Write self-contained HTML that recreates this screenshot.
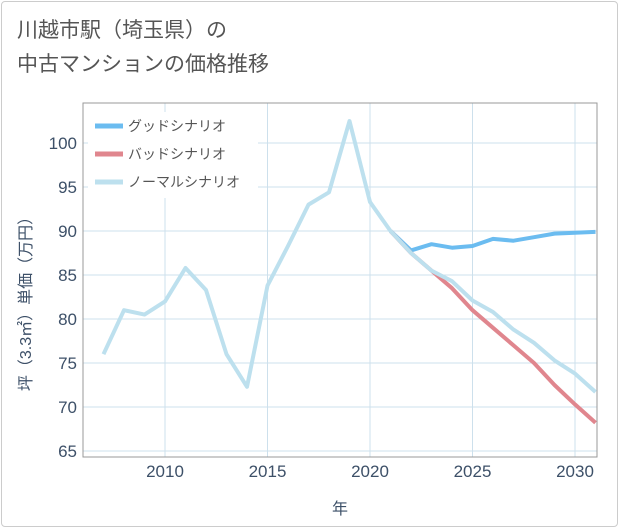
<!DOCTYPE html>
<html><head><meta charset="utf-8"><style>
body{margin:0;background:#fff;}
#wrap{position:relative;width:621px;height:530px;font-family:"Liberation Sans","Noto Sans CJK JP",sans-serif;}
#frame{position:absolute;left:1px;top:1px;width:617px;height:526px;border:1px solid #ccc;border-radius:4px;box-sizing:border-box;}
#title{position:absolute;left:17px;top:14px;font-size:21px;line-height:34px;color:#555;}
svg{position:absolute;left:0;top:0;}
</style></head><body>
<div id="wrap">
<div id="frame"></div>
<div id="title">川越市駅（埼玉県）の<br>中古マンションの価格推移</div>
<svg id="chart" width="621" height="530"></svg>
</div>
<script>
const years=[2007,2008,2009,2010,2011,2012,2013,2014,2015,2016,2017,2018,2019,2020,2021,2022,2023,2024,2025,2026,2027,2028,2029,2030,2031];
const normalVals=[76,81,80.5,82,85.8,83.3,76,72.3,83.8,88.3,93,94.4,102.5,93.3,90,87.5,85.5,84.3,82.1,80.8,78.8,77.3,75.3,73.8,71.7];
const futureYears=[2021,2022,2023,2024,2025,2026,2027,2028,2029,2030,2031];
const goodVals=[90,87.8,88.5,88.1,88.3,89.1,88.9,89.3,89.7,89.8,89.9];
const badVals=[90,87.5,85.5,83.5,81,79,77,75,72.5,70.3,68.2];
const xTicks=[2010,2015,2020,2025,2030];
const yTicks=[65,70,75,80,85,90,95,100];
const L=83,R=597,T=103,B=457;
const x=v=>165+(v-2010)*20.5;
const y=v=>143+(100-v)*8.8;
const svg=document.getElementById('chart');
const NS='http://www.w3.org/2000/svg';
function mk(t,a){const e=document.createElementNS(NS,t);for(const k in a)e.setAttribute(k,a[k]);svg.appendChild(e);return e;}
xTicks.forEach(v=>{
 const g=mk('line',{x1:x(v),x2:x(v),y1:T,y2:B,stroke:'#cde0ec','stroke-width':1});
 
 
 const t=mk('text',{x:x(v),y:477,'text-anchor':'middle','font-size':17,fill:'#3d5068'});
 t.textContent=v;
 
 
});
yTicks.forEach(v=>{
 const g=mk('line',{x1:L,x2:R,y1:y(v),y2:y(v),stroke:'#cde0ec','stroke-width':1});
 
 
 const t=mk('text',{x:77,y:y(v)+6,'text-anchor':'end','font-size':17,fill:'#3d5068'});
 t.textContent=v;
 
 
});
const box=mk('rect',{x:L,y:T,width:R-L,height:B-T,fill:'none',stroke:'#999','stroke-width':1});


function line(xs,vs,color,name){
 const d=xs.map((v,i)=>(i?'L':'M')+x(v).toFixed(1)+','+y(vs[i]).toFixed(1)).join('');
 const p=mk('path',{d:d,fill:'none',stroke:color,'stroke-width':4,'stroke-linejoin':'round'});
 
 
}
const cp=mk('clipPath',{id:'c'});
const cr=document.createElementNS(NS,'rect');cr.setAttribute('x',L);cr.setAttribute('y',T);cr.setAttribute('width',R-L);cr.setAttribute('height',B-T);cp.appendChild(cr);
line(futureYears,goodVals,'#6bbcf0','good-scenario-line');
line(futureYears,badVals,'#e0868e','bad-scenario-line');
line(years,normalVals,'#bde0ee','normal-scenario-line');
svg.querySelectorAll('path').forEach(p=>p.setAttribute('clip-path','url(#c)'));
const lg=mk('rect',{x:88,y:112,width:170,height:86,fill:'#fff'});


[['グッドシナリオ','#6bbcf0'],['バッドシナリオ','#e0868e'],['ノーマルシナリオ','#bde0ee']].forEach((e,i)=>{
 const yy=126+i*28;
 const s=mk('line',{x1:95,x2:123,y1:yy,y2:yy,stroke:e[1],'stroke-width':5});
 
 
 const t=mk('text',{x:128,y:yy+5,'font-size':14,fill:'#555'});
 t.textContent=e[0];
 
 
});
const xt=mk('text',{x:340,y:514,'text-anchor':'middle','font-size':16,fill:'#3d5068'});
xt.textContent='年';


const yt=mk('text',{x:0,y:0,'text-anchor':'middle','font-size':16,fill:'#3d5068',transform:'translate(31,300) rotate(-90)'});
yt.textContent='坪（3.3㎡）単価（万円）';


</script>
</body></html>
